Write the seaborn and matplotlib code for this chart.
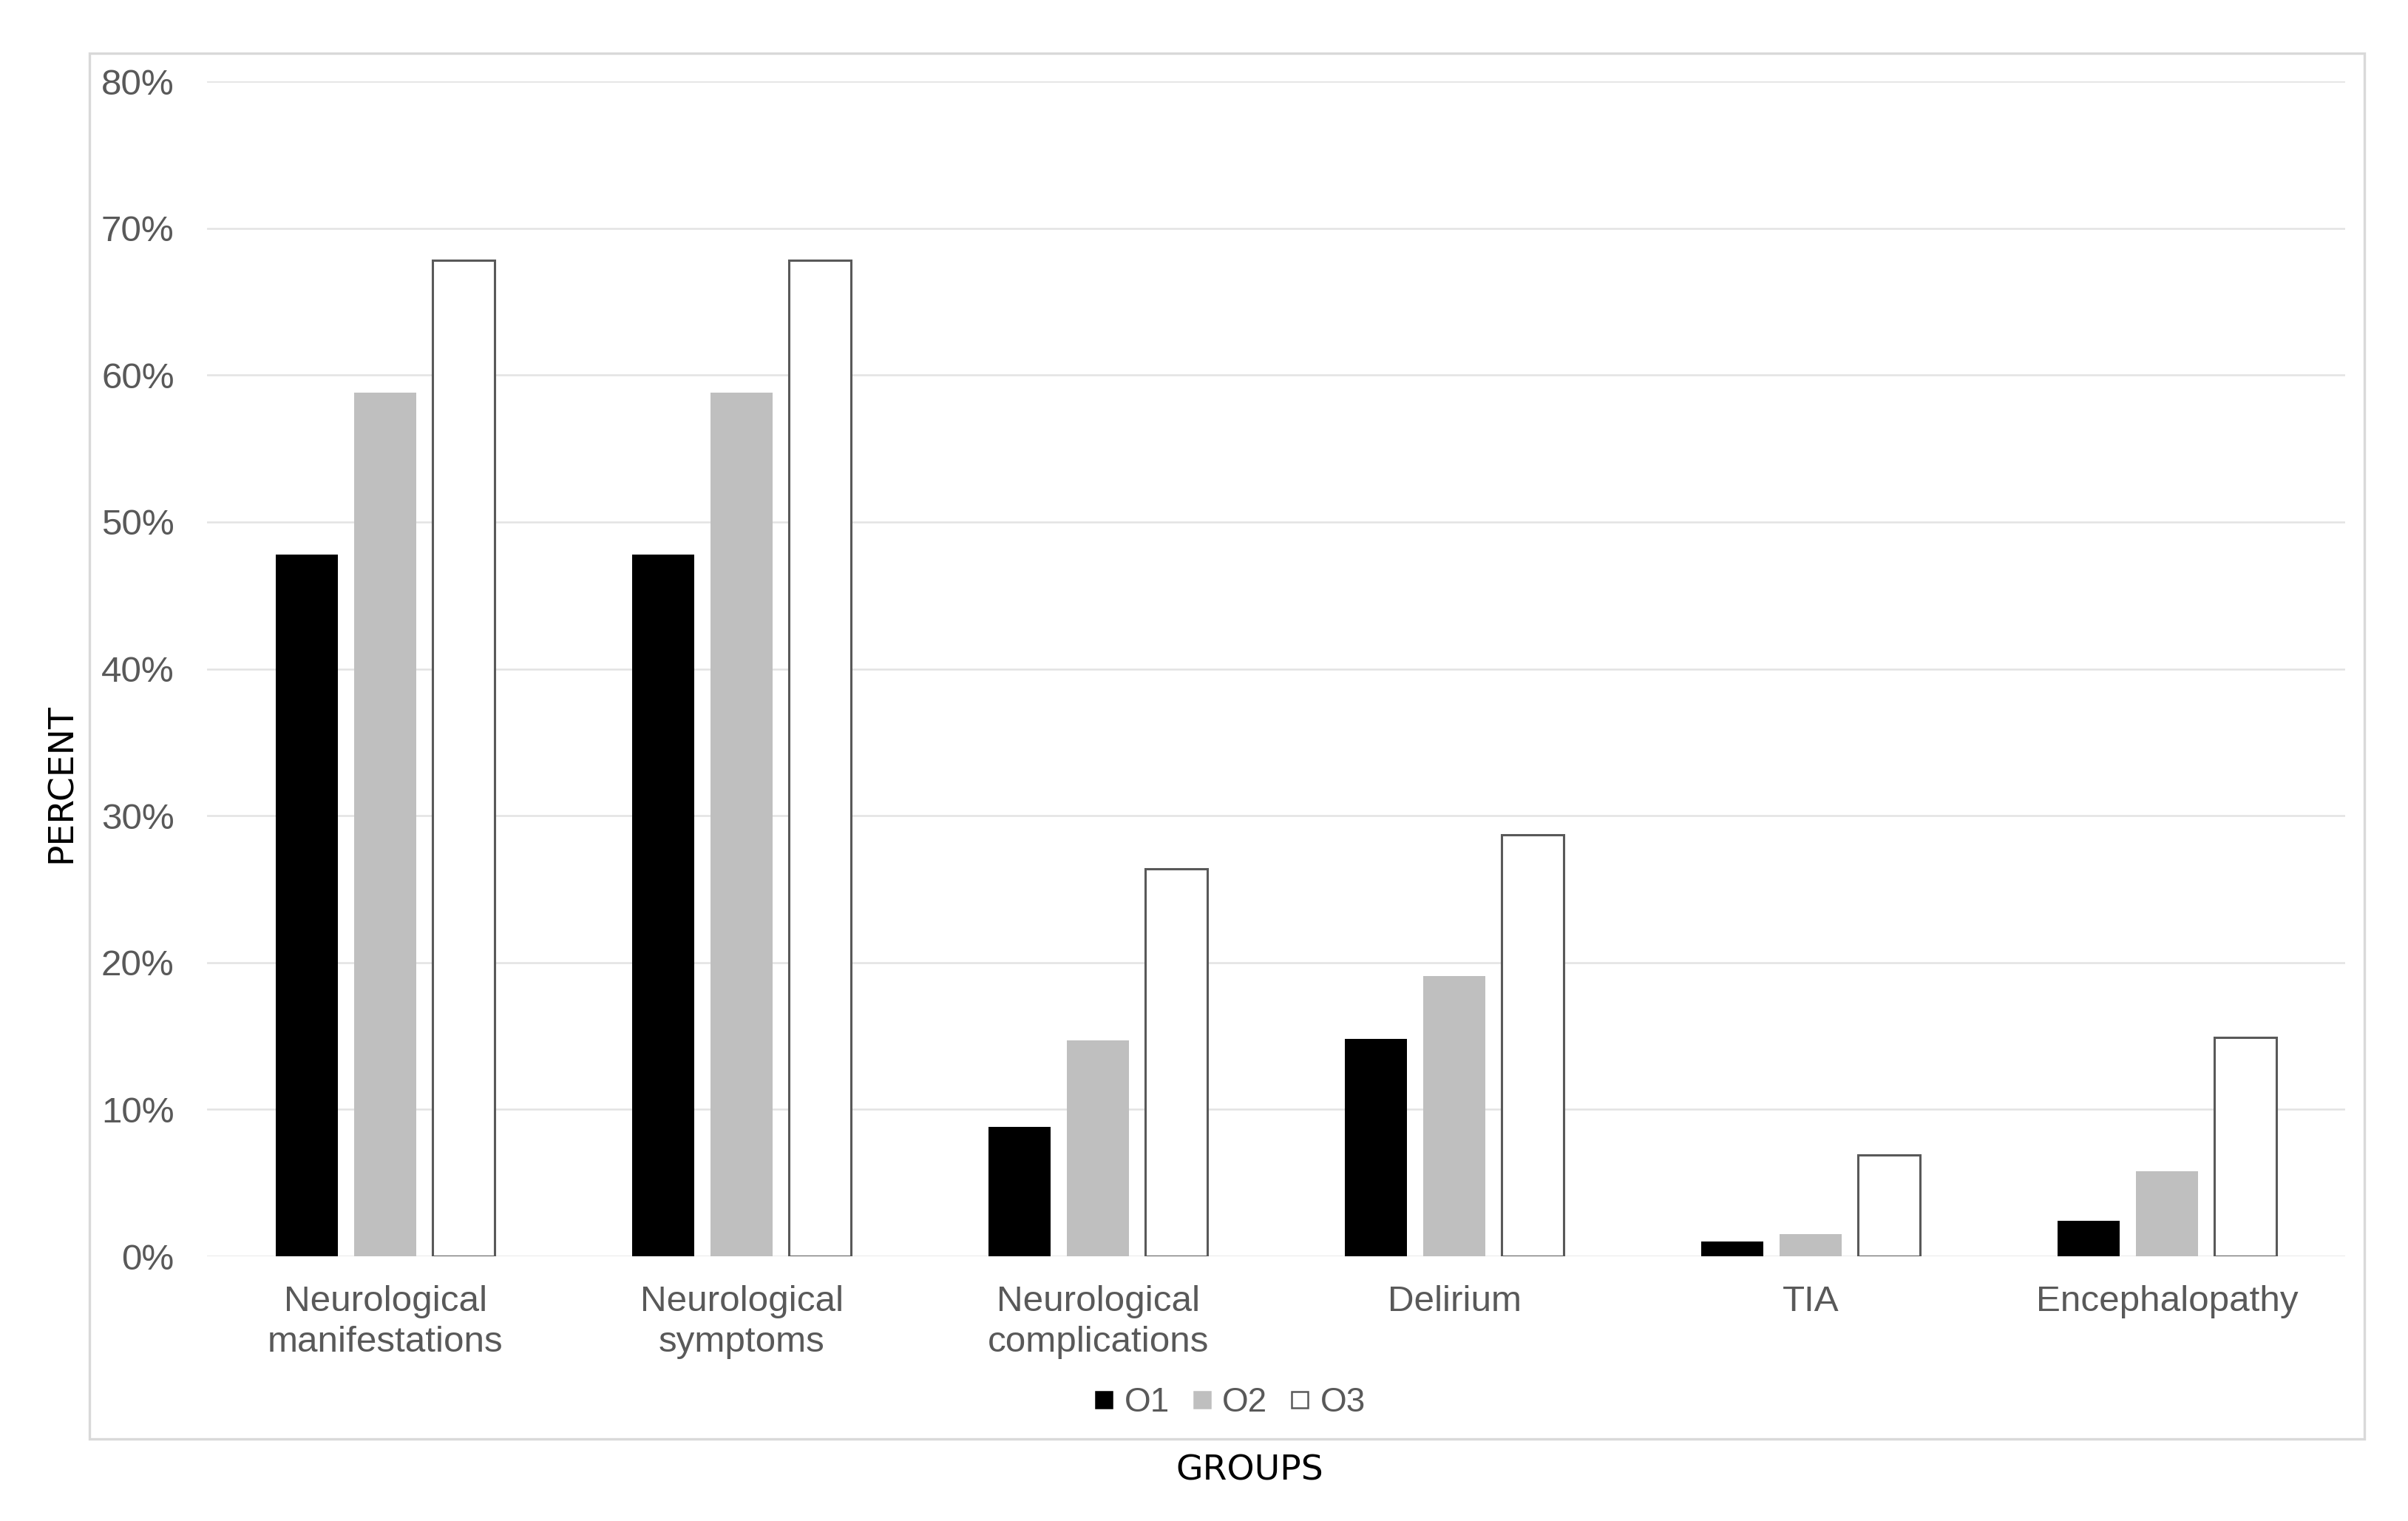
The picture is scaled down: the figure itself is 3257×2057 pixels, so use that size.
import numpy as np
import pandas as pd
import matplotlib
matplotlib.use("Agg")
import matplotlib.pyplot as plt
import seaborn as sns
from matplotlib.ticker import PercentFormatter
from matplotlib.lines import Line2D
from matplotlib.patches import Rectangle


# =====================================
# DATA
# =====================================

categories = [
    "Neurological\nmanifestations",
    "Neurological\nsymptoms",
    "Neurological\ncomplications",
    "Delirium",
    "TIA",
    "Encephalopathy"
]

series_names = ["O1", "O2", "O3"]

o1_values = [47.8, 47.8, 8.8, 14.8, 1.0, 2.4]
o2_values = [58.8, 58.8, 14.7, 19.1, 1.5, 5.8]
o3_values = [67.8, 67.8, 26.4, 28.7, 6.9, 14.9]

y_ticks = [0, 10, 20, 30, 40, 50, 60, 70, 80]

bar_colors = ["#000000", "#bfbfbf", "#ffffff"]


# =====================================
# LONG FORM TABLE
# =====================================

df = pd.DataFrame({
    "group": categories * 3,
    "series": np.repeat(series_names, len(categories)),
    "percent": o1_values + o2_values + o3_values
})


# =====================================
# PLOT
# =====================================

sns.set_style("white")
plt.rcParams["font.family"] = ["Liberation Sans", "DejaVu Sans"]

fig = plt.figure(figsize=(16.285, 10.285), dpi=200)

ax = fig.add_axes([0.086, 0.174, 0.888, 0.7725])

sns.barplot(
    data=df,
    x="group",
    y="percent",
    hue="series",
    order=categories,
    hue_order=series_names,
    palette=bar_colors,
    width=0.66,
    gap=0.21,
    saturation=1,
    legend=False,
    ax=ax
)

# outline only for the white series
for container, name in zip(ax.containers, series_names):
    for patch in container:
        if name == "O3":
            patch.set_edgecolor("#595959")
            patch.set_linewidth(1.1)
        else:
            patch.set_edgecolor("none")
            patch.set_linewidth(0)

ax.set_xlim(-0.5, 5.5)
ax.set_ylim(0, 80)
ax.set_yticks(y_ticks)
ax.yaxis.set_major_formatter(PercentFormatter(decimals=0))

ax.yaxis.grid(True, color="#e3e3e3", linewidth=0.9)
ax.set_axisbelow(True)

for spine in ax.spines.values():
    spine.set_visible(False)

ax.tick_params(axis="y", length=0, pad=16, labelsize=17.8, labelcolor="#595959")
ax.tick_params(axis="x", length=0, pad=14, labelsize=17.8, labelcolor="#595959")

for label in ax.get_xticklabels():
    label.set_linespacing(1.3)
    label.set_verticalalignment("top")

ax.set_xlabel("")
ax.set_ylabel("")


# =====================================
# AXIS TITLES AND LEGEND
# =====================================

fig.text(
    0.519, 0.033, "GROUPS",
    ha="center", va="center",
    fontsize=17, color="black",
    family="DejaVu Sans"
)

fig.text(
    0.0255, 0.485, "PERCENT",
    ha="center", va="center",
    rotation=90,
    fontsize=17, color="black",
    family="DejaVu Sans"
)

handles = [
    Line2D(
        [], [],
        marker="s",
        linestyle="none",
        markersize=8,
        markerfacecolor=color,
        markeredgecolor="#595959" if name == "O3" else color,
        markeredgewidth=0.9
    )
    for name, color in zip(series_names, bar_colors)
]

fig.legend(
    handles,
    series_names,
    loc="center",
    bbox_to_anchor=(0.511, 0.078),
    ncol=3,
    frameon=False,
    fontsize=16.5,
    labelcolor="#595959",
    handlelength=0.5,
    handletextpad=0.35,
    columnspacing=0.7
)

# light border round the whole chart area
fig.patches.append(
    Rectangle(
        (0.037, 0.054), 0.945, 0.911,
        transform=fig.transFigure,
        fill=False,
        edgecolor="#d9d9d9",
        linewidth=1.2
    )
)

plt.savefig("out.png", dpi=200)

plt.close()
